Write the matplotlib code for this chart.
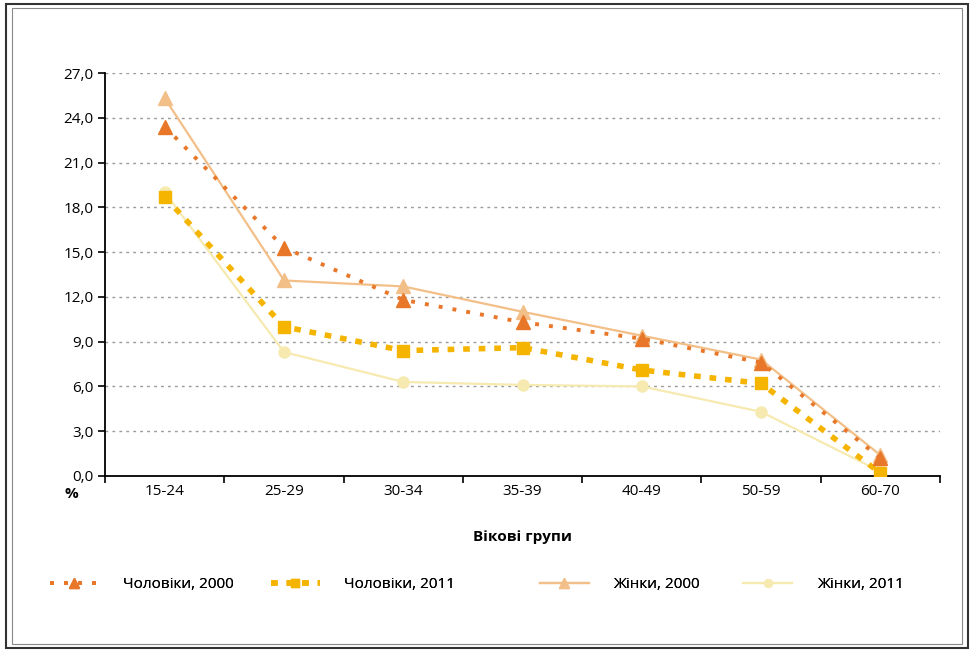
import matplotlib.pyplot as plt
from matplotlib.patches import Rectangle
from matplotlib.ticker import FixedLocator, FuncFormatter

plt.rcParams['font.family'] = ['Open Sans', 'DejaVu Sans']

age_groups = ["15-24", "25-29", "30-34", "35-39", "40-49", "50-59", "60-70"]
men_2000 = [23.4, 15.3, 11.8, 10.3, 9.2, 7.6, 1.2]
men_2011 = [18.7, 10.0, 8.4, 8.6, 7.1, 6.2, 0.2]
women_2000 = [25.3, 13.1, 12.7, 11.0, 9.4, 7.8, 1.4]
women_2011 = [19.0, 8.3, 6.3, 6.1, 6.0, 4.3, 0.3]
y_ticks = [0, 3, 6, 9, 12, 15, 18, 21, 24, 27]

fig = plt.figure(figsize=(9.74, 6.52), dpi=100)
ax = fig.add_axes([0.108, 0.27, 0.857, 0.618])

x = list(range(len(age_groups)))

l4, = ax.plot(x, women_2011, color="#f6eab0", lw=1.6, marker="o", ms=8,
              label="Жінки, 2011", zorder=2)
l3, = ax.plot(x, women_2000, color="#f3bf88", lw=1.6, marker="^", ms=10,
              label="Жінки, 2000", zorder=3)
l2, = ax.plot(x, men_2011, color="#f5b400", lw=4, ls=(0, (1.2, 1.6)), marker="s", ms=9,
              label="Чоловіки, 2011", zorder=4)
l1, = ax.plot(x, men_2000, color="#e8772a", lw=2.8, ls=(0, (1, 2.6)), marker="^", ms=10,
              label="Чоловіки, 2000", zorder=5)

ax.set_xlim(-0.5, 6.5)
ax.set_ylim(0, 27)
ax.set_xticks(x)
ax.set_xticklabels(age_groups)
ax.xaxis.set_minor_locator(FixedLocator([i + 0.5 for i in range(-1, 7)]))
ax.tick_params(axis="x", which="major", length=0, pad=6, labelsize=11)
ax.tick_params(axis="x", which="minor", length=5, width=1.2, direction="out")
ax.set_yticks(y_ticks)
ax.yaxis.set_major_formatter(FuncFormatter(lambda v, p: f"{v:.1f}".replace(".", ",")))
ax.tick_params(axis="y", length=5, width=1.2, labelsize=11)

ax.grid(axis="y", color="#9a9a9a", ls=(0, (2, 3)), lw=1)
ax.set_axisbelow(True)
for s in ["top", "right"]:
    ax.spines[s].set_visible(False)
ax.spines["left"].set_linewidth(1.3)
ax.spines["bottom"].set_linewidth(1.3)

ax.set_xlabel("Вікові групи", fontweight="bold", fontsize=11, labelpad=22)
fig.text(0.073, 0.243, "%", fontsize=11, fontweight="bold", ha="center", va="center")

# one legend per entry, spread along the bottom like the original
legend_x = [0.045, 0.272, 0.548, 0.757]
for h, lx in zip([l1, l2, l3, l4], legend_x):
    leg = fig.legend([h], [h.get_label()], loc="center left", bbox_to_anchor=(lx, 0.103),
                     frameon=False, fontsize=11, handlelength=3.2, handletextpad=1.6,
                     markerscale=0.7, borderaxespad=0)
    fig.add_artist(leg)

# double frame around the picture
fig.patches.append(Rectangle((0.006, 0.006), 0.988, 0.988, transform=fig.transFigure,
                             fill=False, ec="#333333", lw=1.5))
fig.patches.append(Rectangle((0.012, 0.012), 0.976, 0.976, transform=fig.transFigure,
                             fill=False, ec="#888888", lw=0.8))

fig.savefig("out.png", dpi=100)
